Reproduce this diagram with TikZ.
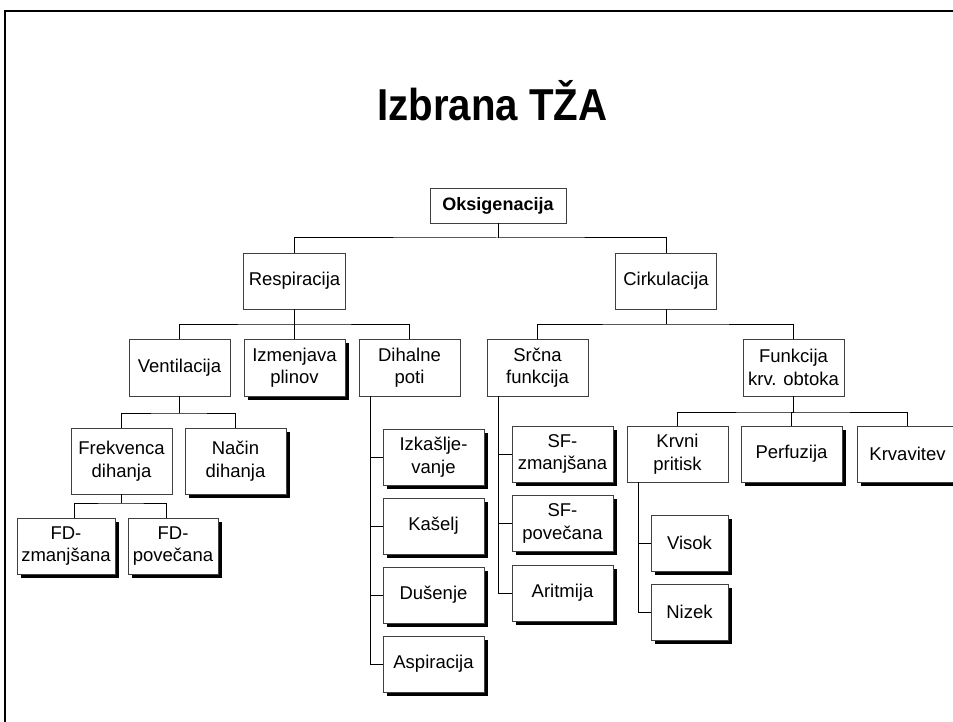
\documentclass[tikz,border=0pt]{standalone}
\usepackage{fontspec}
\setmainfont{Liberation Sans}
\usetikzlibrary{shadows}
\begin{document}
\begin{tikzpicture}[x=1pt,y=-1pt,
  box/.style={draw=black!75, line width=0.8pt, fill=white, inner sep=0pt,
    align=center, font=\fontsize{18.5}{22.5}\selectfont},
  leaf/.style={box, drop shadow={shadow xshift=3.5pt, shadow yshift=-3.5pt, fill=black, opacity=1}},
  conn/.style={draw=black, line width=1pt}]
\useasboundingbox (0,0) rectangle (953,722);
\begin{scope}
\clip (0,0) rectangle (953,722);
% frame
\draw[line width=2.6pt] (5,730) -- (5,11) -- (953,11);
% title
\node (title) at (492.5,101) {\scalebox{0.9}[1]{\fontsize{44.7}{50}\selectfont\bfseries Izbrana TŽA}};
% level 0
\node[box, minimum width=136pt, minimum height=35pt, font=\fontsize{18}{22.5}\selectfont\bfseries] (oks) at (498,205.5) {Oksigenacija};
% level 1
\node[box, minimum width=102pt, minimum height=56pt] (resp) at (294.5,281) {Respiracija};
\node[box, minimum width=101pt, minimum height=56pt] (cirk) at (666,281) {Cirkulacija};
% level 2
\node[box, minimum width=101pt, minimum height=57pt] (vent) at (179.5,367.5) {Ventilacija};
\node[leaf, minimum width=101pt, minimum height=57pt] (izm) at (294.5,367.5) {Izmenjava\\plinov};
\node[box, minimum width=101pt, minimum height=57pt] (dih) at (409.5,367.5) {Dihalne\\poti};
\node[box, minimum width=101pt, minimum height=57pt] (src) at (537.5,367.5) {Srčna\\funkcija};
\node[box, minimum width=101pt, minimum height=57pt] (fko) at (793.5,367.5) {Funkcija\\krv. obtoka};
% ventilacija children
\node[box, minimum width=101pt, minimum height=66pt] (frek) at (121.5,461) {Frekvenca\\dihanja};
\node[leaf, minimum width=101pt, minimum height=66pt] (nac) at (235.5,461) {Način\\dihanja};
\node[leaf, minimum width=98pt, minimum height=56pt] (fdz) at (66,546) {FD-\\zmanjšana};
\node[leaf, minimum width=90pt, minimum height=56pt] (fdp) at (173,546) {FD-\\povečana};
% dihalne poti children
\node[leaf, minimum width=101pt, minimum height=56pt] (izk) at (433.5,457) {Izkašlje-\\vanje};
\node[leaf, minimum width=101pt, minimum height=56pt] (kas) at (433.5,526) {Kašelj};
\node[leaf, minimum width=101pt, minimum height=56pt] (dus) at (433.5,595) {Dušenje};
\node[leaf, minimum width=101pt, minimum height=56pt] (asp) at (433.5,664) {Aspiracija};
% srcna funkcija children
\node[leaf, minimum width=101pt, minimum height=56pt] (sfz) at (562.5,454) {SF-\\zmanjšana};
\node[leaf, minimum width=101pt, minimum height=56pt] (sfp) at (562.5,523.5) {SF-\\povečana};
\node[leaf, minimum width=101pt, minimum height=56pt] (ari) at (562.5,593) {Aritmija};
% funkcija krv. obtoka children
\node[box, minimum width=101pt, minimum height=56pt] (krp) at (677.5,454) {Krvni\\pritisk};
\node[leaf, minimum width=101pt, minimum height=56pt] (per) at (791.5,454) {Perfuzija};
\node[leaf, minimum width=101pt, minimum height=56pt] (krv) at (907.5,454) {Krvavitev};
% krvni pritisk children
\node[leaf, minimum width=77pt, minimum height=56pt] (vis) at (689.5,543) {Visok};
\node[leaf, minimum width=77pt, minimum height=56pt] (niz) at (689.5,612) {Nizek};
% junctions
\coordinate (j0) at (498,238);
\coordinate (j1) at (294.5,324);
\coordinate (j2) at (666,324);
\coordinate (j3) at (179.5,413);
\coordinate (j4) at (121.5,503);
\coordinate (j5) at (793.5,412);
% connectors
\draw[conn] (oks.south) -- (j0);
\draw[conn] (resp.north) |- (j0) -| (cirk.north);
\draw[conn, line width=1.4pt] (resp.south) -- (izm.north);
\draw[conn] (vent.north) |- (j1) -| (dih.north);
\draw[conn] (cirk.south) -- (j2);
\draw[conn] (src.north) |- (j2) -| (fko.north);
\draw[conn] (vent.south) -- (j3);
\draw[conn] (frek.north) |- (j3) -| (nac.north);
\draw[conn] (frek.south) -- (j4);
\draw[conn] ([xshift=8pt]fdz.north) |- (j4) -| ([xshift=-7pt]fdp.north);
\draw[conn] ([xshift=12pt]dih.south west) |- (izk.west);
\draw[conn] ([xshift=12pt]dih.south west) |- (kas.west);
\draw[conn] ([xshift=12pt]dih.south west) |- (dus.west);
\draw[conn] ([xshift=12pt]dih.south west) |- (asp.west);
\draw[conn] ([xshift=12pt]src.south west) |- (sfz.west);
\draw[conn] ([xshift=12pt]src.south west) |- (sfp.west);
\draw[conn] ([xshift=12pt]src.south west) |- (ari.west);
\draw[conn] (fko.south) -- (j5);
\draw[conn] (krp.north) |- (j5) -| (krv.north);
\draw[conn] (j5) -| ([xshift=-0.5pt]per.north);
\draw[conn] ([xshift=12pt]krp.south west) |- (vis.west);
\draw[conn] ([xshift=12pt]krp.south west) |- (niz.west);
\end{scope}
\end{tikzpicture}
\end{document}
